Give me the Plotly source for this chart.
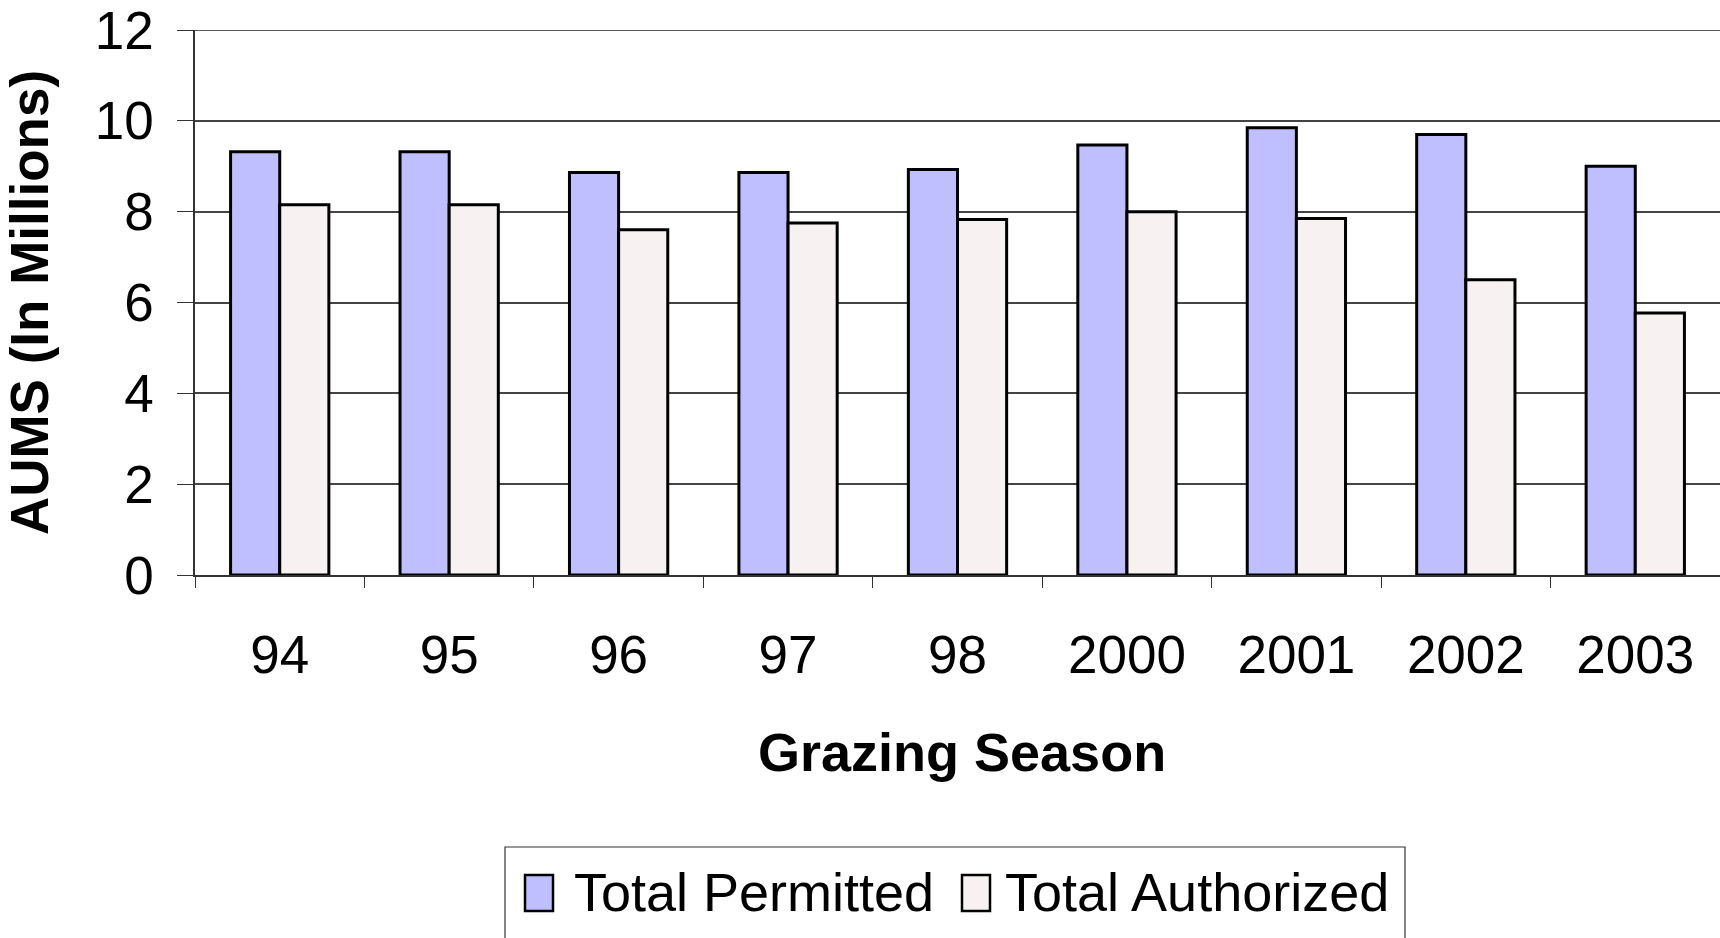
import plotly.graph_objects as go

seasons = ["94", "95", "96", "97", "98", "2000", "2001", "2002", "2003"]
permitted = [9.32, 9.32, 8.86, 8.86, 8.93, 9.47, 9.85, 9.70, 9.00]
authorized = [8.15, 8.15, 7.60, 7.75, 7.83, 8.00, 7.85, 6.50, 5.77]

FONT = "Liberation Sans, Arial, sans-serif"
W, H = 1720, 938
ML, MR, MT, MB = 195, 0, 30, 363
PERM_COLOR = "#BFBFFF"
AUTH_COLOR = "#F7F1F1"


def px(x):
    return (x - ML) / (W - ML - MR)


def py(y):
    return (H - MB - y) / (H - MT - MB)


fig = go.Figure()
fig.add_trace(go.Bar(x=seasons, y=permitted, name="Total Permitted",
                     marker=dict(color=PERM_COLOR, line=dict(color="black", width=3))))
fig.add_trace(go.Bar(x=seasons, y=authorized, name="Total Authorized",
                     marker=dict(color=AUTH_COLOR, line=dict(color="black", width=3))))

shapes = [
    # legend box
    dict(type="rect", xref="paper", yref="paper", x0=px(505), x1=px(1405), y0=py(847), y1=py(950),
         line=dict(color="#333333", width=1.2), fillcolor="rgba(0,0,0,0)", layer="above"),
    # legend icons
    dict(type="rect", xref="paper", yref="paper", x0=px(525), x1=px(553), y0=py(875), y1=py(911),
         line=dict(color="black", width=2.5), fillcolor=PERM_COLOR, layer="above"),
    dict(type="rect", xref="paper", yref="paper", x0=px(962), x1=px(990), y0=py(875), y1=py(911),
         line=dict(color="black", width=2.5), fillcolor=AUTH_COLOR, layer="above"),
    # top border line at y=12
    dict(type="line", xref="paper", yref="y", x0=0, x1=1, y0=12, y1=12,
         line=dict(color="#222222", width=1.5)),
]
annotations = [
    dict(text="Total Permitted", xref="paper", yref="paper", x=px(572), y=py(892),
         xanchor="left", yanchor="middle", showarrow=False, font=dict(size=54, family=FONT)),
    dict(text="Total Authorized", xref="paper", yref="paper", x=px(1003), y=py(892),
         xanchor="left", yanchor="middle", showarrow=False, font=dict(size=54, family=FONT)),
    dict(text="<b>Grazing Season</b>", xref="paper", yref="paper", x=px(962), y=py(752),
         xanchor="center", yanchor="middle", showarrow=False, font=dict(size=54, family=FONT)),
]

fig.update_layout(
    width=W, height=H,
    margin=dict(l=ML, r=MR, t=MT, b=MB),
    paper_bgcolor="white", plot_bgcolor="white",
    barmode="group", bargap=0.42, bargroupgap=0,
    showlegend=False,
    font=dict(family=FONT, color="black", size=52),
    shapes=shapes, annotations=annotations,
    xaxis=dict(
        type="category", tickson="boundaries", ticks="outside", ticklen=11,
        tickcolor="#333333", tickwidth=1, ticklabelstandoff=33,
        showline=True, linecolor="#333333", linewidth=1.5, showgrid=False,
        tickfont=dict(size=53), automargin=False, ticklabeloverflow="allow",
    ),
    yaxis=dict(
        range=[0, 12], dtick=2, ticks="outside", ticklen=16, tickcolor="#333333",
        ticklabelstandoff=13, automargin=False, ticklabeloverflow="allow",
        showline=True, linecolor="#333333", linewidth=1.5,
        showgrid=True, gridcolor="#444444", gridwidth=1.5,
        tickfont=dict(size=53), zeroline=False,
        title=dict(text="<b>AUMS (In Millions)</b>", font=dict(size=53), standoff=34),
    ),
)

fig.write_html("out.html", config={"displayModeBar": False},
               post_script="document.body.style.margin='0';")
